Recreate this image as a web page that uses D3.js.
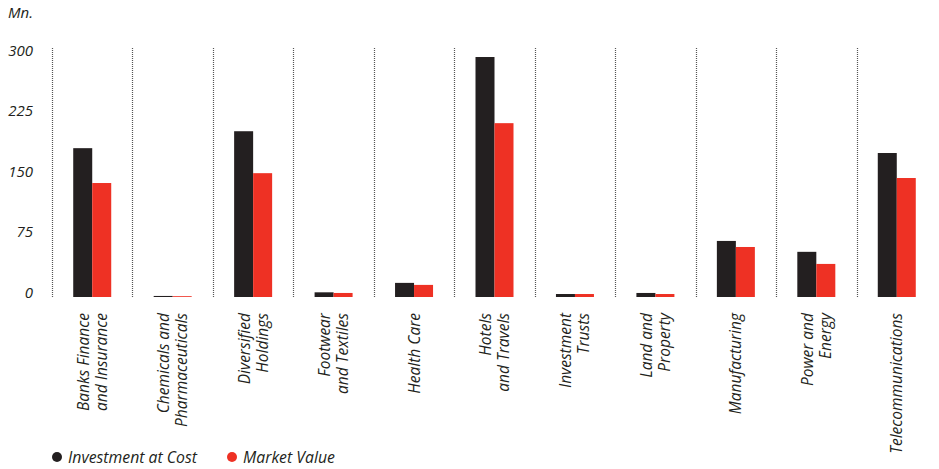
<!DOCTYPE html>
<html>
<head>
<meta charset="utf-8">
<script src="https://cdn.jsdelivr.net/npm/d3@7/dist/d3.min.js"></script>
<style>
  html, body { margin: 0; padding: 0; background: #fff; }
  svg { display: block; }
  text { font-family: "Open Sans", sans-serif; font-style: italic; fill: #231f20; }
</style>
</head>
<body>
<svg id="chart" width="939" height="469"></svg>
<script>
// Sector labels (line breaks mark the two-line labels)
const categories = [
  "Banks Finance\nand Insurance",
  "Chemicals and\nPharmaceuticals",
  "Diversified\nHoldings",
  "Footwear\nand Textiles",
  "Health Care",
  "Hotels\nand Travels",
  "Investment\nTrusts",
  "Land and\nProperty",
  "Manufacturing",
  "Power and\nEnergy",
  "Telecommunications"
];
// Values in Rs. Mn.
const investmentAtCost = [184.5, 1.3, 205.5, 5.8, 17.5, 297.5, 3.7, 5.0, 69.5, 56.0, 178.5];
const marketValue      = [141.3, 1.0, 153.5, 5.0, 15.0, 215.5, 3.7, 3.7, 62.0, 41.0, 147.5];
const yTicks = [0, 75, 150, 225, 300];
const seriesNames = ["Investment at Cost", "Market Value"];
const seriesColors = ["#231f20", "#ee3124"];

const svg = d3.select("#chart");

const x = d3.scaleBand().domain(d3.range(categories.length)).range([52, 937]).padding(0);
const y = d3.scaleLinear().domain([0, 300]).range([297, 55]);
const barW = 19;

// Dotted separators at each band's left edge
svg.append("g").selectAll("line")
  .data(d3.range(categories.length))
  .join("line")
  .attr("x1", i => Math.round(x(i)) + 0.5)
  .attr("x2", i => Math.round(x(i)) + 0.5)
  .attr("y1", 48)
  .attr("y2", y(0))
  .attr("stroke", "#555")
  .attr("stroke-width", 1.2)
  .attr("stroke-dasharray", "1,1");

// Y axis labels
const yAxis = d3.axisLeft(y).tickValues(yTicks).tickSize(0).tickPadding(0);
const gy = svg.append("g").attr("transform", "translate(33,0)").call(yAxis);
gy.select(".domain").remove();
gy.selectAll("text")
  .attr("dy", 0)
  .attr("font-size", 15)
  .style("font-family", "'Open Sans', sans-serif")
  .style("font-style", "italic")
  .attr("fill", "#231f20");

svg.append("text")
  .attr("x", 33).attr("y", 18)
  .attr("text-anchor", "end")
  .attr("font-size", 15)
  .text("Mn.");

// Bars
const groups = svg.append("g").selectAll("g")
  .data(categories.map((c, i) => ({ i, vals: [investmentAtCost[i], marketValue[i]] })))
  .join("g");

groups.selectAll("rect")
  .data(d => d.vals.map((v, s) => ({ i: d.i, s, v })))
  .join("rect")
  .attr("x", d => x(d.i) + x.bandwidth() / 2 - barW + d.s * barW)
  .attr("width", barW)
  .attr("y", d => y(d.v))
  .attr("height", d => y(0) - y(d.v))
  .attr("fill", d => seriesColors[d.s]);

// Rotated category labels
const lineGap = 18;
const labels = svg.append("g").selectAll("g")
  .data(categories.map((c, i) => ({ i, lines: c.split("\n") })))
  .join("g");

labels.each(function (d) {
  const cx = x(d.i) + x.bandwidth() / 2;
  const n = d.lines.length;
  d.lines.forEach((ln, k) => {
    const lx = cx + (k - (n - 1) / 2) * lineGap + 5.5;
    d3.select(this).append("text")
      .attr("transform", `translate(${lx},313) rotate(-90)`)
      .attr("text-anchor", "end")
      .attr("font-size", 15.5)
      .text(ln);
  });
});

// Legend
const legendX = [57, 232];
const legend = svg.append("g").selectAll("g")
  .data(seriesNames)
  .join("g")
  .attr("transform", (d, i) => `translate(${legendX[i]},457)`);
legend.append("circle").attr("r", 5).attr("fill", (d, i) => seriesColors[i]);
legend.append("text")
  .attr("x", 11).attr("y", 5.5)
  .attr("font-size", 15.8)
  .text(d => d);
</script>
</body>
</html>
